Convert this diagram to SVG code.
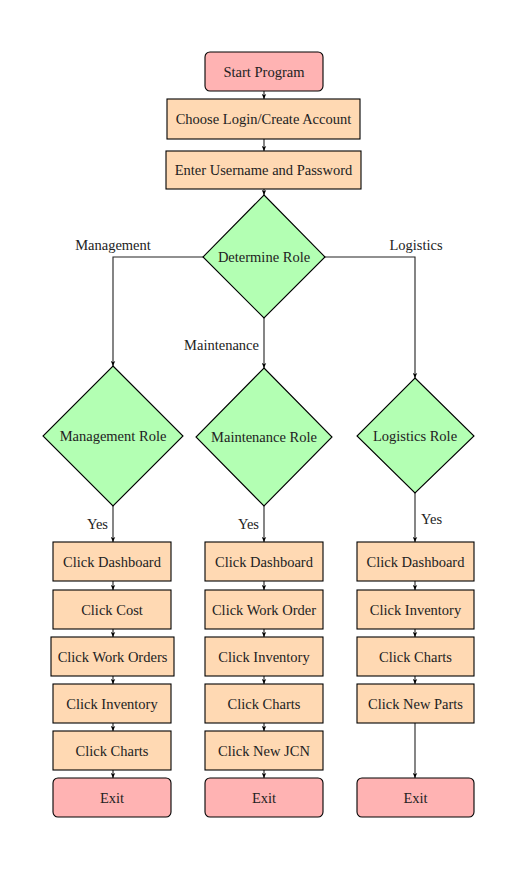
<svg xmlns="http://www.w3.org/2000/svg" width="527" height="871" viewBox="0 0 527 871" font-family="'Liberation Serif', 'DejaVu Serif', serif">
<defs>
<marker id="ah" viewBox="0 0 8 8" refX="8" refY="4" markerWidth="5" markerHeight="5" orient="auto" markerUnits="userSpaceOnUse">
<path d="M0,0.5 L8,4 L0,7.5 L2,4 Z" fill="#000"/>
</marker>
<style>
.term{fill:#ffb3b3;stroke:#000;stroke-width:1.1}
.proc{fill:#ffd9b3;stroke:#000;stroke-width:1.1}
.dec{fill:#b3ffb3;stroke:#000;stroke-width:1.1}
text{font-family:"Liberation Serif","DejaVu Serif",serif;font-size:14.5px;fill:#222;text-anchor:middle;dominant-baseline:central}
.c path,.c line{stroke:#222;stroke-width:1.1;fill:none;marker-end:url(#ah)}
</style>
</defs>
<rect width="527" height="871" fill="#fff"/>
<g class="c" id="connectors">
<line x1="264" y1="91" x2="264" y2="99"/>
<line x1="264" y1="139" x2="264" y2="151"/>
<line x1="264" y1="189" x2="264" y2="195"/>
<path d="M203,257 H113 V366"/>
<line x1="264" y1="318" x2="264" y2="368"/>
<path d="M325,257 H415 V378"/>
<line x1="113" y1="506" x2="113" y2="542"/>
<line x1="113" y1="581" x2="113" y2="590"/>
<line x1="113" y1="629" x2="113" y2="637"/>
<line x1="113" y1="676" x2="113" y2="684"/>
<line x1="113" y1="723" x2="113" y2="731"/>
<line x1="113" y1="770" x2="113" y2="778"/>
<line x1="264" y1="506" x2="264" y2="542"/>
<line x1="264" y1="581" x2="264" y2="590"/>
<line x1="264" y1="629" x2="264" y2="637"/>
<line x1="264" y1="676" x2="264" y2="684"/>
<line x1="264" y1="723" x2="264" y2="731"/>
<line x1="264" y1="770" x2="264" y2="778"/>
<line x1="415" y1="493" x2="415" y2="542"/>
<line x1="415" y1="581" x2="415" y2="590"/>
<line x1="415" y1="629" x2="415" y2="637"/>
<line x1="415" y1="676" x2="415" y2="684"/>
<line x1="415" y1="723" x2="415" y2="778"/>
<text x="113" y="245">Management</text>
<text x="259" y="345" style="text-anchor:end">Maintenance</text>
<text x="416" y="245">Logistics</text>
<text x="108" y="524" style="text-anchor:end">Yes</text>
<text x="259" y="524" style="text-anchor:end">Yes</text>
<text x="421" y="519" style="text-anchor:start">Yes</text>
</g>
<g id="start"><rect class="term" x="205" y="52" width="118" height="39" rx="5"/><text x="264" y="71.5">Start Program</text></g>
<g id="choose"><rect class="proc" x="167" y="99" width="193" height="40"/><text x="263.5" y="119">Choose Login/Create Account</text></g>
<g id="enter"><rect class="proc" x="166" y="151" width="195" height="38"/><text x="263.5" y="170">Enter Username and Password</text></g>
<g id="determine"><polygon class="dec" points="264,195 325,257 264,318 203,257"/><text x="264" y="257">Determine Role</text></g>
<g id="mgmt"><polygon class="dec" points="113,366 183,436 113,506 43,436"/><text x="113" y="436">Management Role</text></g>
<g id="maint"><polygon class="dec" points="264,368 332,437 264,506 196,437"/><text x="264" y="437">Maintenance Role</text></g>
<g id="logi"><polygon class="dec" points="415,378 474,436 415,493 357,436"/><text x="415" y="436">Logistics Role</text></g>
<g id="m1"><rect class="proc" x="53" y="542" width="118" height="39"/><text x="112" y="561.5">Click Dashboard</text></g>
<g id="m2"><rect class="proc" x="53" y="590" width="118" height="39"/><text x="112" y="609.5">Click Cost</text></g>
<g id="m3"><rect class="proc" x="51" y="637" width="123" height="39"/><text x="112.5" y="656.5">Click Work Orders</text></g>
<g id="m4"><rect class="proc" x="53" y="684" width="118" height="39"/><text x="112" y="703.5">Click Inventory</text></g>
<g id="m5"><rect class="proc" x="53" y="731" width="118" height="39"/><text x="112" y="750.5">Click Charts</text></g>
<g id="m6"><rect class="term" x="53" y="778" width="118" height="39" rx="5"/><text x="112" y="797.5">Exit</text></g>
<g id="n1"><rect class="proc" x="205" y="542" width="118" height="39"/><text x="264" y="561.5">Click Dashboard</text></g>
<g id="n2"><rect class="proc" x="205" y="590" width="118" height="39"/><text x="264" y="609.5">Click Work Order</text></g>
<g id="n3"><rect class="proc" x="205" y="637" width="118" height="39"/><text x="264" y="656.5">Click Inventory</text></g>
<g id="n4"><rect class="proc" x="205" y="684" width="118" height="39"/><text x="264" y="703.5">Click Charts</text></g>
<g id="n5"><rect class="proc" x="205" y="731" width="118" height="39"/><text x="264" y="750.5">Click New JCN</text></g>
<g id="n6"><rect class="term" x="205" y="778" width="118" height="39" rx="5"/><text x="264" y="797.5">Exit</text></g>
<g id="l1"><rect class="proc" x="357" y="542" width="117" height="39"/><text x="415.5" y="561.5">Click Dashboard</text></g>
<g id="l2"><rect class="proc" x="357" y="590" width="117" height="39"/><text x="415.5" y="609.5">Click Inventory</text></g>
<g id="l3"><rect class="proc" x="357" y="637" width="117" height="39"/><text x="415.5" y="656.5">Click Charts</text></g>
<g id="l4"><rect class="proc" x="357" y="684" width="117" height="39"/><text x="415.5" y="703.5">Click New Parts</text></g>
<g id="l5"><rect class="term" x="357" y="778" width="117" height="39" rx="5"/><text x="415.5" y="797.5">Exit</text></g>
</svg>
